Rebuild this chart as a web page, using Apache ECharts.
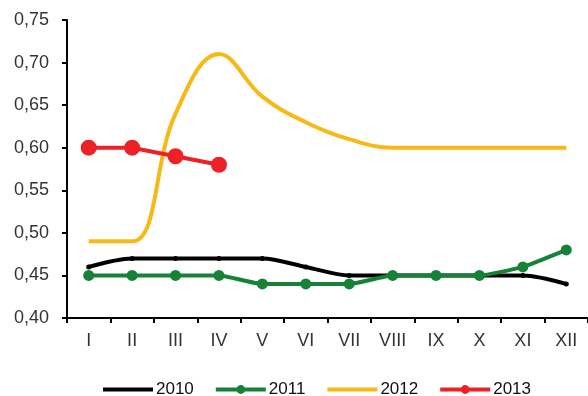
<!DOCTYPE html>
<html>
<head>
<meta charset="utf-8">
<script src="https://cdn.jsdelivr.net/npm/echarts@6/dist/echarts.min.js"></script>
<style>html,body{margin:0;padding:0;background:#fff;}#c{width:588px;height:396px;}</style>
</head>
<body>
<div id="c"></div>
<script>
const categories = ['I','II','III','IV','V','VI','VII','VIII','IX','X','XI','XII'];
const yTicks = [0.40, 0.45, 0.50, 0.55, 0.60, 0.65, 0.70, 0.75];
const seriesNames = ['2010', '2011', '2012', '2013'];
const s2010 = [0.46, 0.47, 0.47, 0.47, 0.47, 0.46, 0.45, 0.45, 0.45, 0.45, 0.45, 0.44];
const s2011 = [0.45, 0.45, 0.45, 0.45, 0.44, 0.44, 0.44, 0.45, 0.45, 0.45, 0.46, 0.48];
const s2012 = [0.49, 0.49, 0.64, 0.71, 0.66, 0.63, 0.61, 0.60, 0.60, 0.60, 0.60, 0.60];
const s2013 = [0.60, 0.60, 0.59, 0.58];

const chart = echarts.init(document.getElementById('c'), null, {renderer: 'canvas'});
const font = 'Liberation Sans, Arial, sans-serif';
chart.setOption({
  animation: false,
  grid: {left: 67, right: -2, top: 20, bottom: 78, containLabel: false},
  legend: {
    top: 381, left: 101, padding: 0,
    itemWidth: 50, itemHeight: 11, itemGap: 20,
    lineStyle: {width: 4},
    textStyle: {fontFamily: 'Liberation Sans Narrow, Arial Narrow, sans-serif', fontSize: 17, color: '#111', padding: [0, 0, 0, -2]},
    data: [
      {name: seriesNames[0], itemStyle: {opacity: 0}},
      {name: seriesNames[1]},
      {name: seriesNames[2], itemStyle: {opacity: 0}},
      {name: seriesNames[3]}
    ]
  },
  xAxis: {
    type: 'category', data: categories, boundaryGap: true,
    axisLine: {lineStyle: {color: '#000', width: 2}},
    axisTick: {show: true, length: 5, lineStyle: {color: '#000', width: 2}},
    axisLabel: {fontFamily: font, fontSize: 18, color: '#333', margin: 14}
  },
  yAxis: {
    type: 'value', min: yTicks[0], max: yTicks[yTicks.length-1], interval: 0.05,
    axisLine: {show: true, lineStyle: {color: '#000', width: 2}},
    axisTick: {show: true, length: 5, lineStyle: {color: '#000', width: 2}},
    splitLine: {show: false},
    axisLabel: {fontFamily: font, fontSize: 18, color: '#333', margin: 18,
      formatter: v => v.toFixed(2).replace('.', ',')}
  },
  series: [
    {name: seriesNames[0], type: 'line', data: s2010, smooth: 0.3,
     symbol: 'circle', symbolSize: 5, lineStyle: {color: '#000', width: 4},
     itemStyle: {color: '#000'}},
    {name: seriesNames[1], type: 'line', data: s2011, smooth: 0.15,
     symbol: 'circle', symbolSize: 11, lineStyle: {color: '#168238', width: 4},
     itemStyle: {color: '#168238'}},
    {name: seriesNames[2], type: 'line', data: s2012, smooth: 0.4,
     symbol: 'none', showSymbol: false, lineStyle: {color: '#F7B916', width: 4},
     itemStyle: {color: '#F7B916'}},
    {name: seriesNames[3], type: 'line', data: s2013, smooth: false,
     symbol: 'circle', symbolSize: 16, lineStyle: {color: '#EE2127', width: 4},
     itemStyle: {color: '#EE2127'}}
  ]
});
</script>
</body>
</html>
